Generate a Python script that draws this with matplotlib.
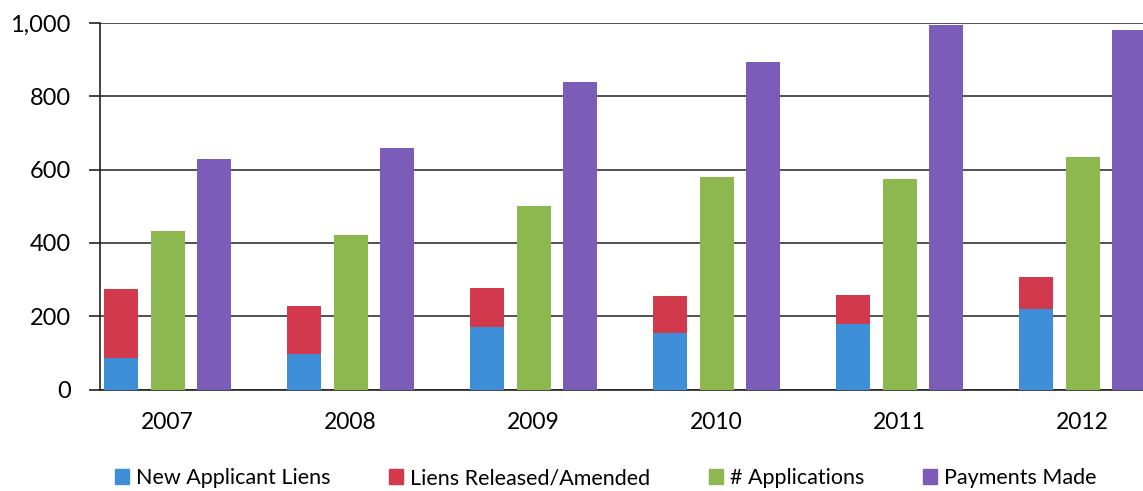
import matplotlib.pyplot as plt
import numpy as np
from matplotlib.patches import Patch

# Data
years = ["2007", "2008", "2009", "2010", "2011", "2012"]
new_liens = [85, 96, 171, 153, 179, 220]
released = [188, 132, 106, 101, 80, 88]
applications = [432, 422, 501, 579, 575, 635]
payments = [630, 660, 838, 894, 995, 982]

blue = "#3f8fd8"
red = "#d3394c"
green = "#8db84f"
purple = "#7b5cb8"

plt.rcParams["font.family"] = ["Lato", "DejaVu Sans"]

fig = plt.figure(figsize=(11.43, 4.91), dpi=100)
ax = fig.add_axes([0.0875, 0.2067, 0.9125, 0.7463])

x = np.arange(len(years))
w = 0.186
off = 0.254

ax.bar(x - off, new_liens, w, color=blue, zorder=3)
ax.bar(x - off, released, w, bottom=new_liens, color=red, zorder=3)
ax.bar(x, applications, w, color=green, zorder=3)
ax.bar(x + off, payments, w, color=purple, zorder=3)

ax.set_xlim(-0.37, 5.33)
ax.set_ylim(0, 1000)
ax.set_yticks(range(0, 1001, 200))
ax.set_yticklabels([f"{v:,}" for v in range(0, 1001, 200)], fontsize=17)
ax.set_xticks(x)
ax.set_xticklabels(years, fontsize=16.5)
ax.tick_params(axis="x", length=0, pad=16)
ax.tick_params(axis="y", length=8, width=1.2, pad=13, color="#222222")

ax.yaxis.grid(True, color="#222222", linewidth=1.1, zorder=0)
for s in ["top", "right"]:
    ax.spines[s].set_visible(False)
ax.spines["left"].set_color("#222222")
ax.spines["left"].set_linewidth(1.2)
ax.spines["bottom"].set_color("#222222")
ax.spines["bottom"].set_linewidth(1.2)

handles = [
    Patch(color=blue, label="New Applicant Liens"),
    Patch(color=red, label="Liens Released/Amended"),
    Patch(color=green, label="# Applications"),
    Patch(color=purple, label="Payments Made"),
]
fig.legend(handles=handles, loc="center", bbox_to_anchor=(0.53, 0.026), ncol=4,
           frameon=False, fontsize=15.5, handlelength=0.65, handleheight=0.65,
           handletextpad=0.35, columnspacing=2.7)

plt.savefig("out.png", dpi=100)
